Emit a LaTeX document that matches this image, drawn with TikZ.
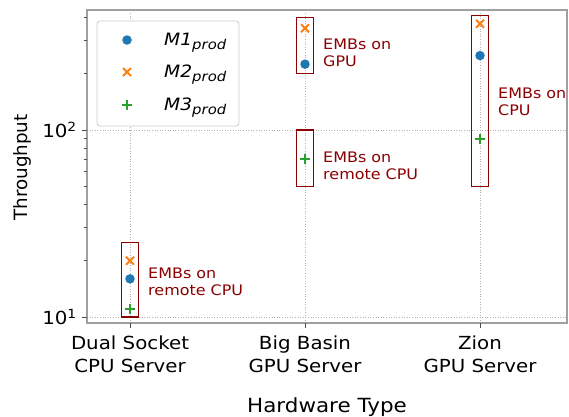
\documentclass[tikz,border=0pt]{standalone}
\usepackage{fontspec}
\setmainfont[FakeStretch=1.1]{DejaVu Sans}
\newfontfamily\plainsans{DejaVu Sans}
\usetikzlibrary{positioning, shapes.misc}
\definecolor{mblue}{RGB}{31,119,180}
\definecolor{morange}{RGB}{255,127,14}
\definecolor{mgreen}{RGB}{44,160,44}
\definecolor{embred}{RGB}{139,0,0}
\definecolor{spinegray}{RGB}{160,160,160}
\definecolor{gridgray}{RGB}{176,176,176}
\newcommand{\prodsub}[1]{\textit{#1}\raisebox{-0.45ex}{\fontsize{13.5}{13.5}\selectfont\itshape prod}}

\begin{document}
\begin{tikzpicture}[x=175pt, y=187pt,
    m1mark/.style={circle, fill=mblue, inner sep=0pt, minimum size=9.5pt},
    m2mark/.style={cross out, draw=morange, line width=2pt, inner sep=0pt, minimum size=6pt},
    m3mark/.style={cross out, rotate=45, draw=mgreen, line width=2pt, inner sep=0pt, minimum size=5pt},
    embbox/.style={draw=embred, line width=1.3pt},
    emblabel/.style={text=embred, font=\fontsize{14.5}{17}\selectfont, align=left, anchor=west, inner sep=0pt},
    ticklabel/.style={font=\fontsize{18}{23}\selectfont, align=center, inner sep=0pt},
    gridline/.style={gridgray, dotted, line width=0.6pt}]
    \useasboundingbox (-130pt,-99pt) rectangle (439pt,317pt);

    % Grid
    \foreach \j in {0,1}
        \draw[gridline] (-0.2457,\j) -- (2.497,\j);
    \foreach \i in {0,1,2}
        \draw[gridline] (\i,-0.032) -- (\i,1.6417);

    % Frame and ticks
    \draw[spinegray, line width=1.2pt] (-0.2457,-0.032) rectangle (2.497,1.6417);
    \foreach \i/\name in {0/{Dual Socket\\CPU Server}, 1/{Big Basin\\GPU Server}, 2/{Zion\\GPU Server}} {
        \draw[black!70, line width=0.9pt] (\i,-0.032) -- ++(0,-5pt);
        \node[ticklabel, anchor=north] (xtick-\i) at ([yshift=-13pt]\i,-0.032) {\name};
    }
    \foreach \j in {0,1} {
        \draw[black!70, line width=0.9pt] (-0.2457,\j) -- ++(-5pt,0);
        \pgfmathtruncatemacro\ex{\j+1}
        \node[font=\fontsize{18}{18}\selectfont, anchor=east, inner sep=0pt] (ytick-\j) at ([xshift=-10pt]-0.2457,\j) {10\textsuperscript{\ex}};
    }
    % Minor ticks
    \foreach \m in {2,...,9} {
        \draw[black!70, line width=0.7pt] (-0.2457,{log10(\m)}) -- ++(-3pt,0);
    }
    \foreach \m in {2,...,4} {
        \draw[black!70, line width=0.7pt] (-0.2457,{1+log10(\m)}) -- ++(-3pt,0);
    }

    % Axis labels
    \node[font=\plainsans\fontsize{18.3}{18.3}\selectfont, rotate=90, anchor=south, inner sep=0pt] (ylabel) at (-98pt,149.5pt) {Throughput};
    \node[font=\fontsize{19.5}{19.5}\selectfont, anchor=base, inner sep=0pt] (xlabel) at (197pt,-95pt) {Hardware Type};

    % Placement boxes
    \foreach \i/\lo/\hi in {0/10/25, 1/200/400, 1/50/100, 2/50/410}
        \draw[embbox] ({\i-0.05},{log10(\lo)-1}) rectangle ({\i+0.05},{log10(\hi)-1});

    % Throughput points
    \foreach \i/\va/\vb/\vc in {0/16/20/11, 1/225/350/70, 2/250/370/90} {
        \node[m1mark] (m1-\i) at (\i,{log10(\va)-1}) {};
        \node[m2mark] (m2-\i) at (\i,{log10(\vb)-1}) {};
        \node[m3mark] (m3-\i) at (\i,{log10(\vc)-1}) {};
    }

    % Box labels
    \node[emblabel] (emb-dual) at (0.103,0.187) {EMBs on\\remote CPU};
    \node[emblabel] (emb-gpu) at (1.103,1.414) {EMBs on\\GPU};
    \node[emblabel] (emb-remote) at (1.103,0.810) {EMBs on\\remote CPU};
    \node[emblabel] (emb-cpu) at (2.103,1.152) {EMBs on\\CPU};

    % Legend
    \draw[black!20, fill=white, line width=0.8pt, rounded corners=3pt] (-33pt,191pt) rectangle (109pt,296pt);
    \foreach \k/\y in {1/277, 2/245, 3/212} {
        \node[m\k mark] (leg-mark-\k) at (-3pt,\y pt) {};
        \node[font=\fontsize{17}{17}\selectfont, anchor=base west, inner sep=0pt] (leg-text-\k) at (34pt,{(\y-5)*1pt}) {\prodsub{M\k}};
    }
\end{tikzpicture}
\end{document}
